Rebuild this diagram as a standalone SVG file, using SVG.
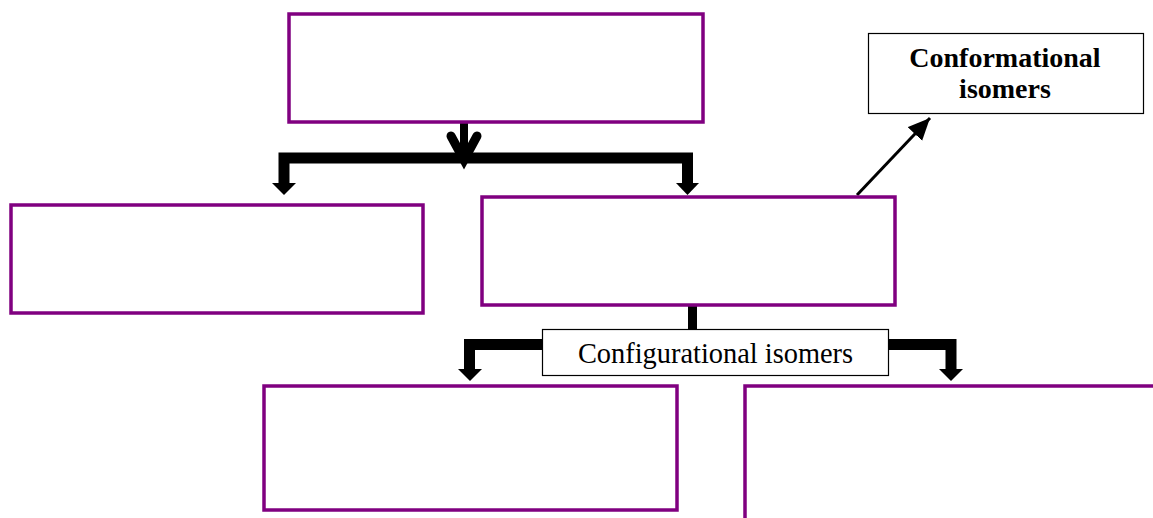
<svg xmlns="http://www.w3.org/2000/svg" width="1153" height="518" viewBox="0 0 1153 518">
  <style>
    .box { fill: #ffffff; stroke: #800080; stroke-width: 3.5; }
    .label { fill: #ffffff; stroke: #000000; stroke-width: 1.2; }
    .bar { fill: none; stroke: #000000; stroke-linejoin: miter; stroke-linecap: butt; }
    .head { fill: #000000; }
    .txt { font-family: "Liberation Serif", "Times New Roman", serif; fill: #000000; text-anchor: middle; }
  </style>
  <defs>
    <marker id="tri" markerUnits="userSpaceOnUse" markerWidth="24" markerHeight="22" refX="22" refY="10" orient="auto">
      <path d="M0 0 L22 10 L0 20 Z" fill="#000000"/>
    </marker>
  </defs>

  <rect width="1153" height="518" fill="#ffffff"/>

  <g id="connectors">
    <!-- split from the top box -->
    <path class="bar" d="M464 123 V156" stroke-width="8"/>
    <path class="bar" d="M284 183 V158 H687.5 V183" stroke-width="11"/>
    <polygon class="head" points="272,183 296,183 284,195"/>
    <polygon class="head" points="676,183 699,183 687.5,195"/>
    <polyline points="451,136 464,160 477,136" fill="none" stroke="#000000" stroke-width="9" stroke-linecap="round" stroke-linejoin="miter"/>

    <!-- split below the middle box -->
    <path class="bar" d="M692.5 306 V330" stroke-width="9"/>
    <path class="bar" d="M543 344.5 H469.5 V369" stroke-width="11"/>
    <polygon class="head" points="458,369 482,369 470,381"/>
    <path class="bar" d="M888 344.5 H951 V369" stroke-width="11"/>
    <polygon class="head" points="939,369 963,369 951,381"/>

    <!-- to conformational isomers -->
    <line x1="857" y1="195" x2="930" y2="118" stroke="#000000" stroke-width="3" marker-end="url(#tri)"/>
  </g>

  <g id="node-top">
    <rect class="box" x="289" y="14" width="414" height="108"/>
  </g>
  <g id="node-left">
    <rect class="box" x="11" y="205" width="412" height="108"/>
  </g>
  <g id="node-middle">
    <rect class="box" x="482" y="197" width="413" height="108"/>
  </g>
  <g id="node-bottom-left">
    <rect class="box" x="264" y="386" width="413" height="124"/>
  </g>
  <g id="node-bottom-right">
    <rect class="box" x="745" y="386" width="500" height="200"/>
  </g>

  <g id="node-conformational">
    <rect class="label" x="868.5" y="33.5" width="275" height="80"/>
    <text class="txt" x="1005" y="67" font-size="28" font-weight="bold">Conformational</text>
    <text class="txt" x="1005" y="98" font-size="28" font-weight="bold">isomers</text>
  </g>

  <g id="node-configurational">
    <rect class="label" x="542.5" y="329.5" width="346" height="46"/>
    <text class="txt" x="715.5" y="363" font-size="28.4">Configurational isomers</text>
  </g>
</svg>
